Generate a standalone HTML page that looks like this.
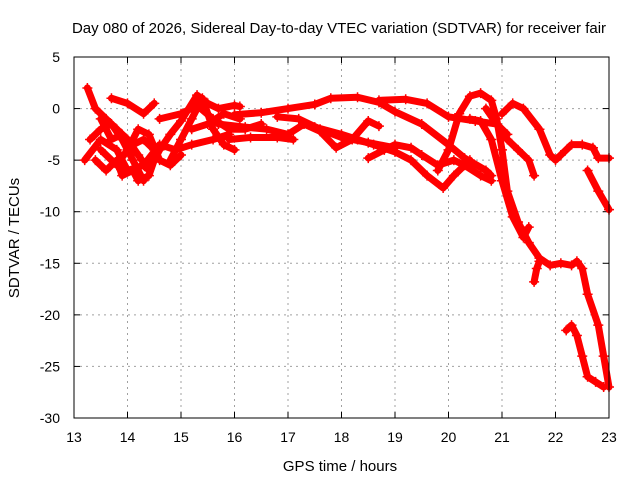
<!DOCTYPE html>
<html><head><meta charset="utf-8"><style>
body{margin:0;background:#fff;}
svg{display:block;font-family:"Liberation Sans",sans-serif;}
</style></head><body>
<svg id="chart" width="640" height="480" viewBox="0 0 640 480">
<text x="339" y="33" font-size="15" text-anchor="middle">Day 080 of 2026, Sidereal Day-to-day VTEC variation (SDTVAR) for receiver fair</text>
<text x="340" y="471" font-size="15" text-anchor="middle">GPS time / hours</text>
<text transform="translate(19,238) rotate(-90)" font-size="15" text-anchor="middle">SDTVAR / TECUs</text>
<g id="grid"></g>
<g id="ticks"></g>
<g id="series"></g>
<rect x="74" y="57" width="535" height="361" fill="none" stroke="#000" stroke-width="1"/>
</svg>
<script>
const xTicks=[13,14,15,16,17,18,19,20,21,22,23];
const yTicks=[5,0,-5,-10,-15,-20,-25,-30];
const trackA=[[16.0,-0.6],[16.5,-0.4],[17.0,0],[17.5,0.4],[17.8,1.0],[18.3,1.1],[18.7,0.6],[19.0,-0.3],[19.5,-1.5],[20.0,-3.5],[20.3,-4.8],[20.7,-6.0],[20.8,-6.5]];
const trackB=[[18.7,0.8],[19.2,0.9],[19.6,0.5],[20.0,-0.8],[20.5,-1.2],[20.9,-1.5],[21.1,-2.5]];
const trackC=[[19.8,-6],[20.0,-4],[20.2,-0.5],[20.4,1.2],[20.6,1.5],[20.8,0.8],[20.9,-1],[21.0,-4],[21.1,-8],[21.3,-11],[21.5,-13],[21.7,-14.5],[21.9,-15.2],[22.1,-15],[22.3,-15.2],[22.4,-14.8],[22.5,-15.5],[22.6,-18],[22.8,-21],[22.9,-24],[23.0,-27]];
const trackD=[[20.4,-1],[20.6,-1.2],[20.8,-3],[21.0,-7],[21.2,-10.5],[21.4,-12.5],[21.5,-11.5]];
const trackE=[[21.0,-0.5],[21.2,0.5],[21.4,0],[21.7,-2],[21.9,-4.5],[22.0,-5],[22.1,-4.5],[22.3,-3.5],[22.5,-3.5],[22.7,-3.8],[22.8,-4.8],[23.0,-4.8]];
const trackF=[[20.7,0],[20.9,-1.5],[21.1,-3],[21.3,-4],[21.5,-5],[21.6,-6.5]];
const trackG=[[22.6,-6],[22.8,-8],[23.0,-9.8]];
const trackH=[[22.2,-21.5],[22.3,-21],[22.4,-22],[22.5,-24],[22.6,-26],[22.75,-26.5],[22.9,-27]];
const trackI=[[21.6,-16.8],[21.65,-15.5],[21.7,-14.8]];
const trackJ=[[18.5,-4.8],[18.8,-4],[19.0,-3.5],[19.3,-3.8],[19.5,-4.5],[19.8,-5.5],[20.1,-5],[20.3,-5.5],[20.6,-6.5],[20.8,-7]];
const trackK=[[17.5,-1.8],[18.0,-2.5],[18.3,-3],[18.6,-3.5],[19.0,-4.2],[19.3,-5],[19.6,-6.5],[19.9,-7.7],[20.1,-6.5],[20.4,-5]];
const trackL=[[15.7,-1.5],[16.2,-1.8],[16.6,-2],[17.0,-2.5],[17.3,-1.5],[17.6,-2.2],[17.9,-3.8],[18.2,-3],[18.5,-1.2],[18.7,-1.7]];
const trackM=[[16.8,-0.8],[17.2,-1],[17.6,-2],[18.0,-2.8],[18.5,-3.3],[19.0,-3.8]];
const trackN=[[15.9,-3],[16.3,-2.8],[16.8,-2.8],[17.1,-3]];
const trackO=[[13.25,2],[13.4,0],[13.6,-1],[13.8,-2],[14.0,-3],[14.2,-4.5],[14.4,-6],[14.6,-4],[14.8,-2.5],[15.0,-1.2],[15.3,1.3],[15.5,0.5],[15.7,0],[16.0,0.3],[16.1,0.2]];
const trackP=[[13.7,1],[14.0,0.5],[14.3,-0.5],[14.5,0.5]];
const trackQ=[[13.2,-5],[13.5,-3],[13.8,-4],[14.0,-6],[14.3,-5.5],[14.6,-3.5],[14.9,-4],[15.2,-3.5],[15.6,-3],[15.9,-2.5]];
const trackR=[[13.5,-4],[13.8,-5.5],[14.0,-4],[14.2,-2],[14.4,-2.5],[14.6,-5],[14.8,-5.5],[15.0,-4.5]];
const trackS=[[14.6,-1],[15.0,-0.5],[15.3,0.3],[15.6,-1],[15.9,-2],[16.2,-2],[16.5,-1.5]];
const trackT=[[14.8,-5],[15.0,-3],[15.2,-1],[15.4,1],[15.6,-2],[15.8,-3.5],[16.0,-4]];
const trackU=[[13.3,-3],[13.5,-2],[13.7,-1.5],[13.9,-3],[14.1,-5],[14.3,-7]];
const trackV=[[13.4,-5],[13.6,-6],[13.8,-5],[13.9,-6.5],[14.1,-6],[14.2,-7],[14.4,-6.5],[14.5,-5]];
const trackW=[[13.5,-1],[13.7,-3],[13.9,-2.5],[14.1,-3.5],[14.3,-3],[14.5,-4]];
const trackX=[[15.2,-2],[15.5,-1.5],[15.8,-0.5],[16.1,-1]];
const tracks=[trackA,trackB,trackC,trackD,trackE,trackF,trackG,trackH,trackI,trackJ,trackK,trackL,trackM,trackN,trackO,trackP,trackQ,trackR,trackS,trackT,trackU,trackV,trackW,trackX];

const NS="http://www.w3.org/2000/svg";
const X0=74,X1=609,Y0=418,Y1=57;
const xs=v=>X0+(v-13)/(23-13)*(X1-X0);
const ys=v=>Y0-(v+30)/(5+30)*(Y0-Y1);
function mk(tag,attrs,parent){const e=document.createElementNS(NS,tag);for(const k in attrs)e.setAttribute(k,attrs[k]);parent.appendChild(e);return e;}
const grid=document.getElementById('grid'),ticks=document.getElementById('ticks'),series=document.getElementById('series');
xTicks.forEach(t=>{
  const x=xs(t);
  if(t>13&&t<23){const g=mk('line',{x1:x,x2:x,y1:Y1,y2:Y0,stroke:'#a0a0a0','stroke-dasharray':'2,4'},grid);
  
  }
  mk('line',{x1:x,x2:x,y1:Y0,y2:Y0-6,stroke:'#000'},ticks);
  mk('line',{x1:x,x2:x,y1:Y1,y2:Y1+6,stroke:'#000'},ticks);
  const l=mk('text',{x:x,y:Y0+24,'font-size':14,'text-anchor':'middle'},ticks);l.textContent=t;
  
  
});
yTicks.forEach(t=>{
  const y=ys(t);
  if(t>-30&&t<5){const g=mk('line',{x1:X0,x2:X1,y1:y,y2:y,stroke:'#a0a0a0','stroke-dasharray':'2,4'},grid);
  
  }
  mk('line',{x1:X0,x2:X0+6,y1:y,y2:y,stroke:'#000'},ticks);
  mk('line',{x1:X1,x2:X1-6,y1:y,y2:y,stroke:'#000'},ticks);
  const l=mk('text',{x:X0-14,y:y+5,'font-size':14,'text-anchor':'end'},ticks);l.textContent=t;
  
  
});
tracks.forEach(tr=>{
  const p=mk('polyline',{points:tr.map(d=>xs(d[0])+','+ys(d[1])).join(' '),fill:'none',stroke:'#ff0000','stroke-width':7,'stroke-linejoin':'round','stroke-linecap':'round'},series);
  
  
  tr.forEach(d=>{
    const x=xs(d[0]),y=ys(d[1]);
    const m=mk('path',{d:`M${x-5},${y}H${x+5}M${x},${y-5}V${y+5}`,stroke:'#ff0000','stroke-width':1.5},series);
    
    
  });
});
</script>
</body></html>
